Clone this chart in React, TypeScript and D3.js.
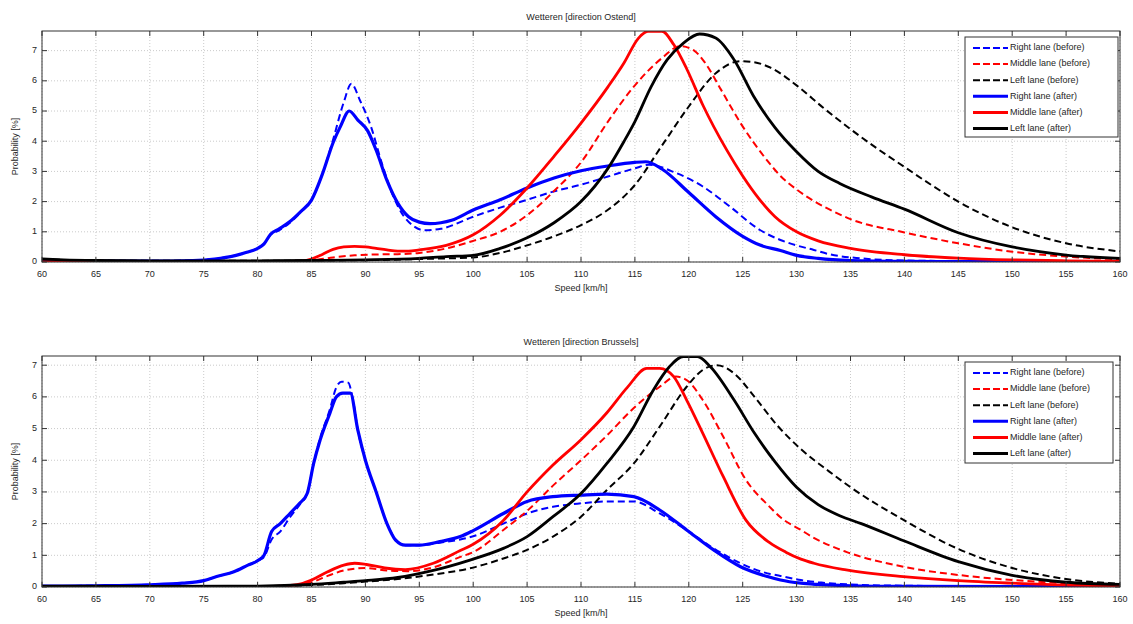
import React from "react";
import * as d3 from "d3";

type Pt = [number, number];

// ---------- tick labels ----------
const speedTicks = [60, 65, 70, 75, 80, 85, 90, 95, 100, 105, 110, 115, 120, 125, 130, 135, 140, 145, 150, 155, 160];
const probTicks = [0, 1, 2, 3, 4, 5, 6, 7];

// ---------- Ostend (top) ----------
const ostendRightBefore: Pt[] = [[60,0.03],[70,0.03],[74,0.05],[76,0.1],[78,0.22],[79,0.32],[80,0.45],[80.6,0.6],[81.2,0.9],[82,1.05],[83,1.3],[84,1.65],[85,2.05],[86,2.9],[87,4.05],[88,5.3],[88.7,5.9],[89.5,5.35],[90.5,4.5],[91.5,3.3],[92.5,2.25],[93.5,1.55],[94.5,1.18],[95.5,1.05],[97,1.1],[100,1.5],[102.5,1.8],[105,2.06],[107.5,2.34],[110,2.56],[112.5,2.83],[115,3.1],[116.3,3.22],[118.8,2.95],[121.3,2.5],[123.8,1.84],[126.6,1.06],[128.5,0.73],[130,0.55],[131.6,0.4],[133,0.26],[136,0.12],[140,0.05],[150,0.02],[160,0.01]];
const ostendMiddleBefore: Pt[] = [[60,0.01],[83,0.01],[85,0.05],[87,0.15],[89,0.22],[91,0.25],[93,0.26],[95,0.3],[97.5,0.45],[100,0.7],[102.5,1.0],[105,1.55],[107.5,2.35],[110,3.3],[112.5,4.65],[115,5.85],[117.5,6.75],[119.2,7.15],[120.5,7.0],[121.5,6.6],[123,5.7],[124.8,4.6],[127.3,3.35],[128.5,2.85],[130,2.4],[131.6,2.02],[133,1.75],[135,1.42],[140,0.98],[145,0.62],[150,0.34],[155,0.18],[160,0.09]];
const ostendLeftBefore: Pt[] = [[60,0.1],[62,0.07],[65,0.05],[70,0.04],[80,0.04],[85,0.05],[90,0.06],[95,0.1],[100,0.15],[102.5,0.3],[105,0.55],[107.5,0.85],[110,1.22],[112.5,1.73],[115,2.55],[117.5,3.85],[120,5.15],[122.5,6.25],[124.8,6.65],[126,6.62],[127.5,6.45],[130,5.85],[132.5,5.1],[135,4.4],[137.5,3.75],[140,3.15],[142.5,2.55],[145,2.0],[150,1.15],[155,0.62],[160,0.35]];
const ostendRightAfter: Pt[] = [[60,0.03],[65,0.03],[70,0.03],[74,0.05],[76,0.1],[78,0.22],[79,0.32],[80,0.45],[80.6,0.6],[81.2,0.92],[82,1.1],[83,1.34],[84,1.67],[85,2.05],[86,2.9],[87,3.95],[87.7,4.5],[88.5,5.0],[89.3,4.7],[90.2,4.35],[91,3.7],[92,2.7],[93,1.95],[94,1.5],[95,1.32],[96,1.27],[97,1.3],[98,1.38],[100,1.72],[102.5,2.06],[105,2.45],[107.5,2.78],[110,3.02],[112.5,3.18],[115,3.3],[116,3.32],[117.5,3.08],[120,2.3],[122.5,1.5],[125,0.85],[126.6,0.56],[128.5,0.38],[130,0.22],[132,0.12],[135,0.05],[140,0.02],[150,0.01],[160,0.01]];
const ostendMiddleAfter: Pt[] = [[60,0.01],[80,0.01],[84,0.03],[85,0.1],[86,0.25],[87,0.42],[88,0.5],[89,0.52],[90,0.5],[91,0.45],[92,0.4],[93,0.36],[94,0.36],[95,0.4],[97.5,0.55],[100,0.9],[102.5,1.55],[105,2.45],[107.5,3.5],[110,4.6],[112.5,5.8],[114,6.6],[115.3,7.4],[116.2,7.64],[117.5,7.64],[118.6,7.2],[119.8,6.4],[121.3,5.2],[123.5,3.72],[125,2.85],[126.5,2.1],[128,1.5],[130,1.0],[132,0.7],[135,0.45],[140,0.24],[145,0.13],[150,0.07],[155,0.04],[160,0.03]];
const ostendLeftAfter: Pt[] = [[60,0.1],[62,0.07],[65,0.05],[70,0.04],[80,0.04],[85,0.05],[90,0.07],[95,0.12],[97.5,0.18],[100,0.22],[102.5,0.45],[105,0.8],[107.5,1.3],[110,2.0],[112.5,3.1],[114,4.0],[115,4.65],[116.5,5.8],[118,6.7],[119.5,7.25],[121,7.55],[122.5,7.42],[124.2,6.7],[126,5.5],[128,4.45],[130,3.65],[132,3.0],[134,2.6],[137,2.15],[140,1.75],[145,0.97],[150,0.5],[155,0.23],[160,0.12]];

// ---------- Brussels (bottom) ----------
const brusselsRightBefore: Pt[] = [[60,0.03],[65,0.04],[70,0.07],[73,0.12],[75,0.2],[76.2,0.33],[77.8,0.48],[79.1,0.69],[80.1,0.85],[80.6,0.95],[81.3,1.5],[82.1,1.75],[83,2.2],[83.9,2.6],[84.6,2.95],[85.2,3.9],[85.8,4.7],[86.7,5.6],[87.3,6.3],[87.8,6.48],[88.4,6.45],[88.8,6.0],[89.3,4.95],[90,4.0],[91,3.0],[92,2.0],[92.8,1.5],[93.7,1.32],[95,1.32],[96.9,1.4],[98.8,1.5],[100,1.6],[102.8,2.0],[105,2.32],[107.4,2.53],[110,2.64],[112.4,2.7],[114.9,2.7],[117.3,2.32],[119.8,1.8],[122.3,1.22],[124.8,0.75],[127.3,0.43],[128.5,0.35],[130.4,0.22],[132,0.15],[135,0.08],[140,0.04],[150,0.02],[160,0.01]];
const brusselsMiddleBefore: Pt[] = [[60,0.01],[82,0.01],[84,0.07],[85,0.15],[86.5,0.35],[88,0.52],[90,0.6],[92,0.52],[94,0.5],[96.3,0.62],[98.8,0.95],[100,1.1],[102.8,1.8],[105,2.4],[107.4,3.2],[110,4.0],[112.4,4.78],[114.9,5.65],[117.3,6.32],[118.8,6.64],[119.8,6.53],[121.3,5.9],[123.2,4.74],[125.3,3.38],[127.5,2.53],[128.5,2.2],[130.4,1.8],[131.6,1.55],[134.6,1.11],[139.9,0.64],[145,0.38],[150,0.22],[155,0.12],[160,0.06]];
const brusselsLeftBefore: Pt[] = [[60,0.03],[70,0.02],[80,0.03],[85,0.06],[88,0.12],[90,0.17],[93,0.25],[96,0.38],[99.7,0.59],[102.8,0.9],[105,1.17],[107.4,1.59],[110,2.22],[112.4,3.06],[114.9,3.9],[117.3,5.06],[119.8,6.32],[121.3,6.85],[122.6,7.0],[124.2,6.74],[126.1,6.0],[128.2,5.1],[130.4,4.35],[133,3.65],[135,3.15],[140,2.1],[145,1.2],[150,0.6],[155,0.25],[160,0.1]];
const brusselsRightAfter: Pt[] = [[60,0.03],[65,0.04],[70,0.07],[73,0.12],[75,0.2],[76.2,0.33],[77.8,0.48],[79.1,0.69],[80.1,0.85],[80.6,1.0],[81.3,1.75],[82.1,2.0],[83,2.32],[83.9,2.64],[84.6,2.95],[85.2,3.9],[85.8,4.64],[86.7,5.48],[87.3,6.0],[87.9,6.12],[88.6,6.12],[89.3,4.95],[90,4.0],[91,3.0],[92,2.0],[92.8,1.48],[93.7,1.32],[95,1.32],[96.9,1.43],[98.8,1.59],[100,1.78],[102.8,2.32],[105,2.7],[107.4,2.85],[110,2.9],[112.4,2.93],[114.9,2.85],[117.3,2.43],[119.8,1.8],[122.3,1.17],[124.8,0.64],[127.3,0.33],[128.5,0.22],[130.4,0.12],[132,0.08],[135,0.04],[140,0.02],[160,0.01]];
const brusselsMiddleAfter: Pt[] = [[60,0.01],[80,0.01],[82.3,0.03],[84,0.1],[85,0.22],[86.5,0.48],[88,0.69],[89,0.75],[90.1,0.71],[91.8,0.6],[93.7,0.55],[96.3,0.75],[98.8,1.15],[100,1.35],[102.8,2.1],[105,3.0],[107.4,3.85],[110,4.65],[112.4,5.5],[114.3,6.3],[116.1,6.9],[117.3,6.9],[118.6,6.64],[119.8,5.9],[121.3,4.85],[123.2,3.48],[125.3,2.11],[127.5,1.4],[129,1.1],[130.4,0.88],[131.6,0.75],[134.6,0.54],[139.9,0.33],[145,0.2],[150,0.12],[155,0.06],[160,0.03]];
const brusselsLeftAfter: Pt[] = [[60,0.03],[70,0.02],[80,0.03],[85,0.08],[88,0.15],[90,0.2],[93,0.3],[96,0.5],[99.7,0.85],[102.8,1.22],[105,1.59],[107.4,2.22],[110,2.95],[112.4,3.9],[114.9,5.06],[116.7,6.21],[118.2,6.95],[119.5,7.27],[120.8,7.27],[122,6.95],[124.2,5.9],[126.1,4.85],[128,3.95],[130,3.15],[132,2.6],[134,2.25],[136,2.0],[140,1.45],[145,0.8],[150,0.37],[155,0.15],[160,0.08]];

const seriesNames = ["Right lane (before)", "Middle lane (before)", "Left lane (before)", "Right lane (after)", "Middle lane (after)", "Left lane (after)"];
const seriesColors = ["#0000ff", "#ff0000", "#000000", "#0000ff", "#ff0000", "#000000"];
const seriesDashed = [true, true, true, false, false, false];

const panels = [
  { title: "Wetteren [direction Ostend]", yMax: 7.65, top: 31, bottom: 262, legendTop: 37, legendH: 100, legendW: 153,
    data: [ostendRightBefore, ostendMiddleBefore, ostendLeftBefore, ostendRightAfter, ostendMiddleAfter, ostendLeftAfter] },
  { title: "Wetteren [direction Brussels]", yMax: 7.29, top: 356, bottom: 587, legendTop: 362, legendH: 101, legendW: 148,
    data: [brusselsRightBefore, brusselsMiddleBefore, brusselsLeftBefore, brusselsRightAfter, brusselsMiddleAfter, brusselsLeftAfter] },
];

const LEFT = 42;
const RIGHT = 1120;
const FONT = "'Liberation Sans', Arial, sans-serif";
const TXT = "#262626";

function Panel({ p, idx }: { p: typeof panels[number]; idx: number }) {
  const x = d3.scaleLinear().domain([60, 160]).range([LEFT, RIGHT]);
  const y = d3.scaleLinear().domain([0, p.yMax]).range([p.bottom, p.top]);
  const line = d3.line<Pt>().x(d => x(d[0])).y(d => y(d[1])).curve(d3.curveMonotoneX);
  const clipId = `clip${idx}`;
  const yTicks = probTicks.filter(t => t <= p.yMax);
  const legLeft = 965;
  return (
    <g>
      <defs>
        <clipPath id={clipId}>
          <rect x={LEFT} y={p.top} width={RIGHT - LEFT} height={p.bottom - p.top} />
        </clipPath>
      </defs>
      <rect x={LEFT} y={p.top} width={RIGHT - LEFT} height={p.bottom - p.top} fill="#fff" />
      {speedTicks.map(t => (
        <line key={"gx" + t} x1={x(t)} x2={x(t)} y1={p.top} y2={p.bottom} stroke="#bdbdbd" strokeWidth={0.8} strokeDasharray="1,2" />
      ))}
      {yTicks.map(t => (
        <line key={"gy" + t} x1={LEFT} x2={RIGHT} y1={y(t)} y2={y(t)} stroke="#bdbdbd" strokeWidth={0.8} strokeDasharray="1,2" />
      ))}
      <g clipPath={`url(#${clipId})`}>
        {p.data.map((d, i) => (
          <path key={i} d={line(d) || ""} fill="none" stroke={seriesColors[i]}
            strokeWidth={seriesDashed[i] ? 2 : (i === 3 ? 3.2 : 2.8)}
            strokeDasharray={seriesDashed[i] ? "7,4" : undefined} strokeLinejoin="round" />
        ))}
      </g>
      <rect x={LEFT} y={p.top} width={RIGHT - LEFT} height={p.bottom - p.top} fill="none" stroke="#333" strokeWidth={1} />
      {speedTicks.map(t => (
        <g key={"tx" + t}>
          <line x1={x(t)} x2={x(t)} y1={p.bottom} y2={p.bottom - 5} stroke="#333" />
          <line x1={x(t)} x2={x(t)} y1={p.top} y2={p.top + 5} stroke="#333" />
          <text x={x(t)} y={p.bottom + 13} fontSize={9} fontFamily={FONT} fill={TXT} textAnchor="middle" dominantBaseline="middle">{t}</text>
        </g>
      ))}
      {yTicks.map(t => (
        <g key={"ty" + t}>
          <line x1={LEFT} x2={LEFT + 5} y1={y(t)} y2={y(t)} stroke="#333" />
          <line x1={RIGHT} x2={RIGHT - 5} y1={y(t)} y2={y(t)} stroke="#333" />
          <text x={37} y={y(t)} fontSize={9} fontFamily={FONT} fill={TXT} textAnchor="end" dominantBaseline="middle">{t}</text>
        </g>
      ))}
      <text x={(LEFT + RIGHT) / 2} y={p.top - 13} fontSize={9} fontFamily={FONT} fill={TXT} textAnchor="middle" dominantBaseline="middle">{p.title}</text>
      <text x={(LEFT + RIGHT) / 2} y={p.bottom + 27} fontSize={9} fontFamily={FONT} fill={TXT} textAnchor="middle" dominantBaseline="middle">Speed [km/h]</text>
      <text transform={`translate(16,${(p.top + p.bottom) / 2}) rotate(-90)`} fontSize={9} fontFamily={FONT} fill={TXT} textAnchor="middle" dominantBaseline="middle">Probability [%]</text>
      <rect x={legLeft} y={p.legendTop} width={p.legendW} height={p.legendH} fill="#fff" stroke="#333" strokeWidth={1} />
      {seriesNames.map((n, i) => {
        const ly = p.legendTop + 11 + i * 16.1;
        return (
          <g key={n}>
            <line x1={legLeft + 8} x2={legLeft + 43} y1={ly} y2={ly} stroke={seriesColors[i]}
              strokeWidth={seriesDashed[i] ? 2 : 3} strokeDasharray={seriesDashed[i] ? "7,3" : undefined} />
            <text x={legLeft + 45} y={ly} fontSize={9} fontFamily={FONT} fill={TXT} dominantBaseline="middle">{n}</text>
          </g>
        );
      })}
    </g>
  );
}

export default function App() {
  return (
    <svg width={1133} height={624} style={{ position: "absolute", left: 0, top: 0, background: "#fff" }}>
      <rect width={1133} height={624} fill="#fff" />
      {panels.map((p, i) => <Panel key={i} p={p} idx={i} />)}
    </svg>
  );
}
